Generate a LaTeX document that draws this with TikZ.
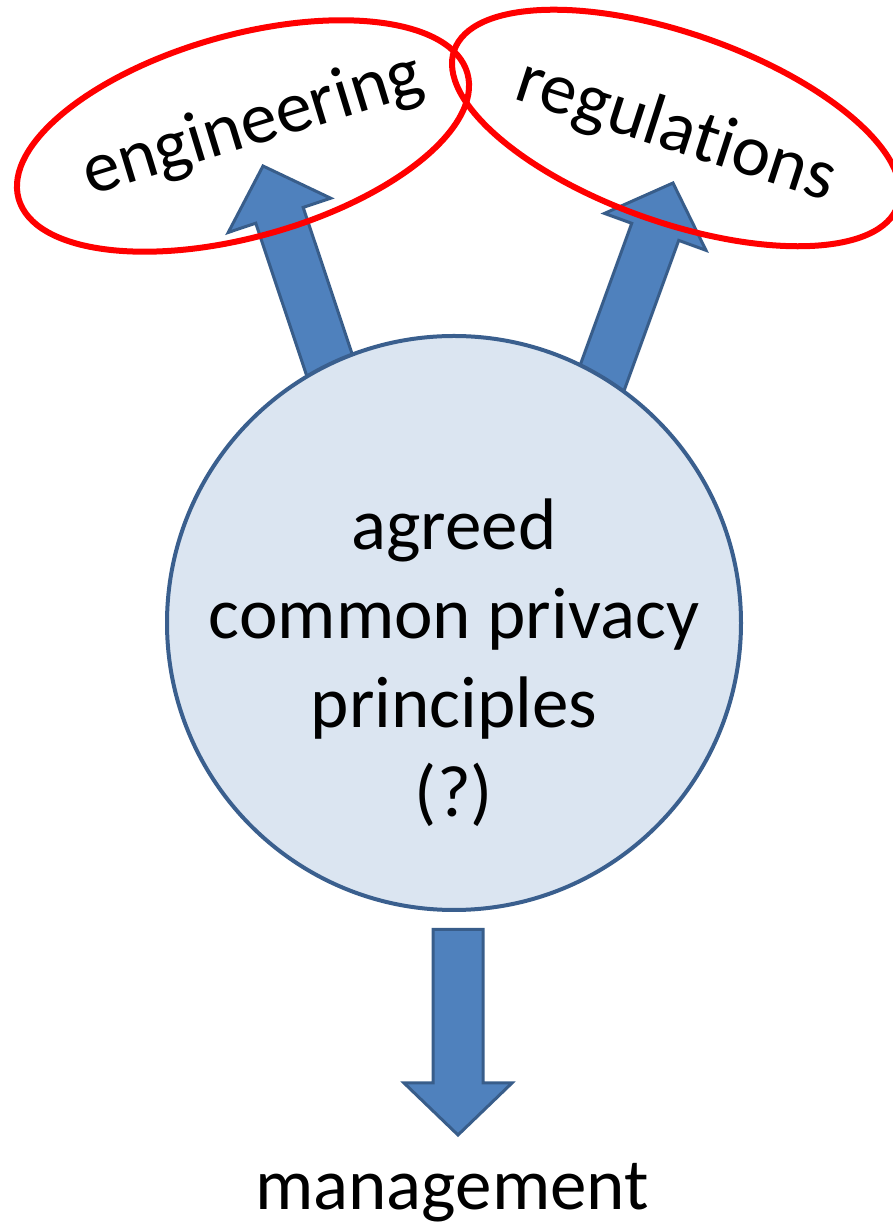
\documentclass[tikz,border=0pt]{standalone}
\usepackage{fontspec}
\setmainfont{Carlito}[Ligatures=NoCommon]
\usetikzlibrary{calc,shapes.geometric}
\definecolor{arrowfill}{HTML}{4F81BD}
\definecolor{arrowline}{HTML}{385D8A}
\definecolor{circfill}{HTML}{DBE5F1}
\definecolor{circline}{HTML}{3A5F8E}
\newcommand\blockarrow[3]{%
  \coordinate (#1-m) at ($(#3)!52pt!(#2)$);
  \draw[barrow] ($(#2)!25pt!-90:(#3)$) -- ($(#1-m)!25pt!-90:(#3)$)
    -- ($(#1-m)!54pt!-90:(#3)$) -- (#3) -- ($(#1-m)!54pt!90:(#3)$)
    -- ($(#1-m)!25pt!90:(#3)$) -- ($(#2)!25pt!90:(#3)$) -- cycle;}
\begin{document}
\begin{tikzpicture}[x=1pt,y=1pt,
  barrow/.style={fill=arrowfill, draw=arrowline, line width=3pt, line join=miter},
  ring/.style={ellipse, draw=red, line width=6pt, inner sep=0pt},
  lbl/.style={font=\fontsize{73}{89}\selectfont, inner sep=0pt}]
\useasboundingbox (0,0) rectangle (893,1227);
% arrow end points
\coordinate (lbase) at (339,833.5);
\coordinate (ltip) at (263,1061);
\coordinate (rbase) at (591,818.5);
\coordinate (rtip) at (673,1044);
\coordinate (dtop) at (458,297.5);
\coordinate (dtip) at (458,92);
\blockarrow{la}{lbase}{ltip}
\blockarrow{ra}{rbase}{rtip}
\blockarrow{da}{dtop}{dtip}
% red ellipses
\node[ring, minimum width=466pt, minimum height=202pt, rotate=15.6] (eng) at (243,1091) {};
\node[ring, minimum width=470pt, minimum height=189pt, rotate=-19.3] (reg) at (676,1099) {};
\node[lbl, rotate=17] (engt) at (253,1101) {engineering};
\node[lbl, rotate=-18] (regt) at (676,1095) {regulations};
% circle
\node[circle, fill=circfill, draw=circline, line width=4pt, minimum size=574pt, inner sep=0pt] (circ) at (454,604) {};
\node[lbl, align=center, anchor=base] (txt) at (454,410) {agreed\\common privacy\\principles\\(?)};
\node[lbl, anchor=base] (mgmt) at (452,17) {management};
\end{tikzpicture}
\end{document}
